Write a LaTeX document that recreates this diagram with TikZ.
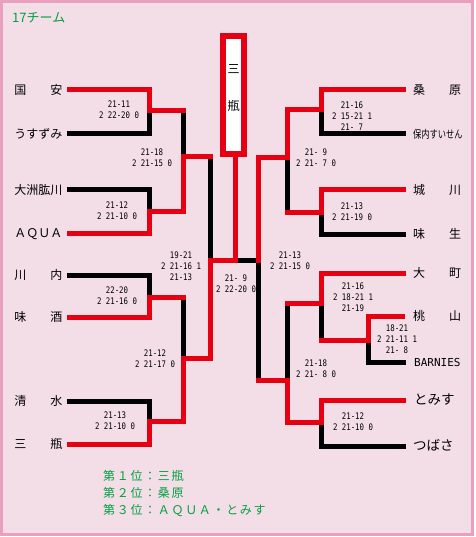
\documentclass[tikz,border=0pt]{standalone}
\usepackage{fontspec}
\setmainfont{Noto Sans CJK JP}
\newfontfamily\scorefont[FakeStretch=0.82]{DejaVu Sans Mono}
\newfontfamily\latinmono{DejaVu Sans Mono}
\usetikzlibrary{positioning}

\definecolor{bgpink}{HTML}{F3DEE7}
\definecolor{framepink}{HTML}{E9A0BE}
\definecolor{brkred}{HTML}{E60012}
\definecolor{rankgreen}{HTML}{00A040}

\tikzset{
  win/.style={draw=brkred, line width=5pt, line cap=rect},
  lose/.style={draw=black, line width=5pt, line cap=rect},
  team/.style={font=\fontsize{12}{12}\selectfont, inner sep=0pt, text height=10pt, text depth=1pt},
  teamL/.style={team, anchor=east},
  teamR/.style={team, anchor=west},
  score/.style={font=\scorefont\fontsize{9}{11}\selectfont, align=center, inner sep=0pt},
  champbox/.style={draw=brkred, line width=6pt, fill=white, minimum width=21pt,
    minimum height=118pt, inner sep=0pt},
  rank/.style={font=\fontsize{12}{12}\selectfont\addfontfeature{LetterSpace=14}, text=rankgreen,
    anchor=west, inner sep=0pt, text height=10pt, text depth=1pt},
}

\begin{document}
\begin{tikzpicture}[x=1pt, y=-1pt]
\useasboundingbox (0,0) rectangle (475,537);

% ── Hintergrund ─────────────────────────────────────────────
\fill[white] (0,0) rectangle (475,537);
\draw[framepink, line width=3pt, fill=bgpink] (1.5,1.5) rectangle (472.5,534.5);
\node[font=\fontsize{13}{13}\selectfont, text=rankgreen, anchor=west, inner sep=0pt] (title) at (12,18) {17チーム};

% ── Teams links ─────────────────────────────────────────────
\node[teamL] (kuni)    at (62.5,90)  {国　　安};
\node[teamL] (usu)     at (62.5,134) {うすずみ};
\node[teamL] (ozu)     at (62.5,190) {大洲肱川};
\node[teamL] (aqua)    at (62.5,233) {ＡＱＵＡ};
\node[teamL] (sen)     at (62.5,275) {川　　内};
\node[teamL] (misake)  at (62.5,317) {味　　酒};
\node[teamL] (shimizu) at (62.5,401) {清　　水};
\node[teamL] (sanbe)   at (62.5,444) {三　　瓶};

% ── Teams rechts ────────────────────────────────────────────
\node[teamR] (kuwa)    at (413,90)  {桑　　原};
\node[teamR, font=\fontsize{11}{11}\selectfont\addfontfeature{FakeStretch=0.75}] (honai) at (413,134) {保内すいせん};
\node[teamR] (jo)      at (413,190) {城　　川};
\node[teamR] (ajio)    at (413,234) {味　　生};
\node[teamR] (oomachi) at (413,273) {大　　町};
\node[teamR] (momo)    at (413,316) {桃　　山};
\node[teamR, font=\latinmono\fontsize{11}{11}\selectfont] (barn) at (414,362) {BARNIES};
\node[teamR, font=\fontsize{13.5}{13.5}\selectfont] (tomi)  at (414,400) {とみす};
\node[teamR, font=\fontsize{13.5}{13.5}\selectfont] (tsuba) at (413,446) {つばさ};

% ── Knoten ──────────────────────────────────────────────────
\coordinate (mA) at (149,111);
\coordinate (mB) at (149,211);
\coordinate (mC) at (149,297);
\coordinate (mD) at (149,421);
\coordinate (mE) at (183,157);
\coordinate (mF) at (183,358);
\coordinate (mG) at (210,260);
\coordinate (fin) at (235,260);
\coordinate (mH) at (321,110);
\coordinate (mI) at (321,212);
\coordinate (mJ) at (321,303);
\coordinate (mK) at (321,422);
\coordinate (mM) at (368,340);
\coordinate (mL) at (287,158);
\coordinate (mN) at (287,380);
\coordinate (mO) at (258,260);

% ── Verlierer ───────────────────────────────────────────────
\draw[lose] ([xshift=6.5pt]usu.east) -| (mA);
\draw[lose] ([xshift=6.5pt]ozu.east) -| (mB);
\draw[lose] ([xshift=6.5pt]sen.east) -| (mC);
\draw[lose] ([xshift=6.5pt]shimizu.east) -| (mD);
\draw[lose] (mA -| mE) -- (mE);
\draw[lose] (mC -| mF) -- (mF);
\draw[lose] (mE -| mG) -- (mG);
\draw[lose] ([xshift=-9.5pt]honai.west) -| (mH);
\draw[lose] ([xshift=-9.5pt]ajio.west) -| (mI);
\draw[lose] ([xshift=-10.5pt]barn.west) -| (mM);
\draw[lose] ([xshift=-9.5pt]tsuba.west) -| (mK);
\draw[lose] (mM -| mJ) -- (mJ);
\draw[lose] (mI -| mL) -- (mL);
\draw[lose] (mJ -| mN) -- (mN);
\draw[lose] (mN -| mO) -- (mO);
\draw[lose] (mO) -- (fin);

% ── Sieger ──────────────────────────────────────────────────
\draw[win] ([xshift=6.5pt]kuni.east) -| (mA);
\draw[win] ([xshift=6.5pt]aqua.east) -| (mB);
\draw[win] ([xshift=6.5pt]misake.east) -| (mC);
\draw[win] ([xshift=6.5pt]sanbe.east) -| (mD);
\draw[win] (mA) -- (mA -| mE);
\draw[win] (mB) -| (mE);
\draw[win] (mC) -- (mC -| mF);
\draw[win] (mD) -| (mF);
\draw[win] (mE) -- (mE -| mG);
\draw[win] (mF) -| (mG);
\draw[win] (mG) -- (fin);
\draw[win] ([xshift=-9.5pt]kuwa.west) -| (mH);
\draw[win] ([xshift=-9.5pt]jo.west) -| (mI);
\draw[win] ([xshift=-9.5pt]oomachi.west) -| (mJ);
\draw[win] ([xshift=-10.5pt]momo.west) -| (mM);
\draw[win] ([xshift=-10.5pt]tomi.west) -| (mK);
\draw[win] (mM) -- (mM -| mJ);
\draw[win] (mH) -| (mL);
\draw[win] (mI) -- (mI -| mL);
\draw[win] (mJ) -- (mJ -| mN);
\draw[win] (mK) -| (mN);
\draw[win] (mL) -| (mO);
\draw[win] (mN) -- (mN -| mO);

% ── Sieger-Box ──────────────────────────────────────────────
\node[champbox] (champ) at (233.5,95) {};
\draw[win] (fin) -- (fin |- champ.south);
\node[font=\fontsize{12}{37}\selectfont, align=center, inner sep=0pt] (champname) at (233.5,88.5) {三\\瓶};

% ── Ergebnisse ──────────────────────────────────────────────
\node[score] (sA) at (119,109.5) {21-11\\2 22-20 0};
\node[score] (sE) at (152,157.5) {21-18\\2 21-15 0};
\node[score] (sB) at (117,210.5) {21-12\\2 21-10 0};
\node[score] (sG) at (181,266.5) {19-21\\2 21-16 1\\21-13};
\node[score] (sC) at (117,295.5) {22-20\\2 21-16 0};
\node[score] (sF) at (155,359)   {21-12\\2 21-17 0};
\node[score] (sD) at (115,420.5) {21-13\\2 21-10 0};
\node[score] (sFin) at (236,283.5) {21- 9\\2 22-20 0};
\node[score] (sH) at (352,116)   {21-16\\2 15-21 1\\21- 7};
\node[score] (sL) at (316,157.5) {21- 9\\2 21- 7 0};
\node[score] (sI) at (352,211.5) {21-13\\2 21-19 0};
\node[score] (sO) at (290,260.5) {21-13\\2 21-15 0};
\node[score] (sJ) at (353,297)   {21-16\\2 18-21 1\\21-19};
\node[score] (sM) at (397,339)   {18-21\\2 21-11 1\\21- 8};
\node[score] (sN) at (316,368.5) {21-18\\2 21- 8 0};
\node[score] (sK) at (353,421.5) {21-12\\2 21-10 0};

% ── Platzierung ─────────────────────────────────────────────
\foreach \rk/\nr/\who in {1/１/三瓶, 2/２/桑原, 3/３/ＡＱＵＡ・とみす} {
  \node[rank] (rank\rk) at (103,459+17*\rk) {第\nr 位：\who};
}

\end{tikzpicture}
\end{document}
